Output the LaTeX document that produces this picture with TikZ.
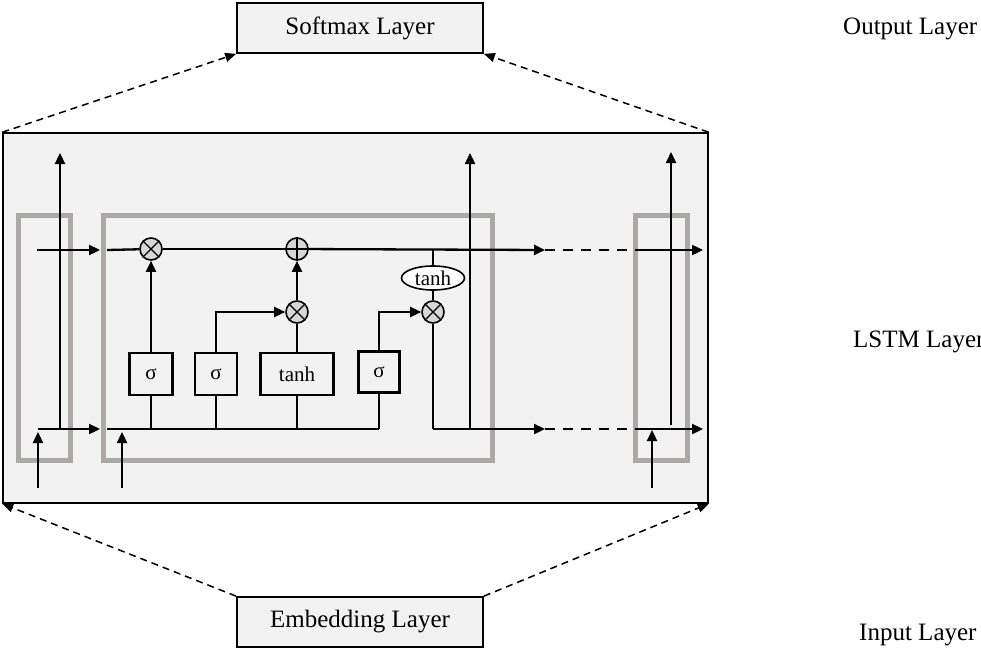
\documentclass[tikz,border=0pt]{standalone}
\usepackage{fontspec}
\setmainfont{Liberation Serif}
\usetikzlibrary{arrows.meta,shapes.geometric}
\definecolor{panelfill}{RGB}{242,242,242}
\definecolor{cellgray}{RGB}{172,168,168}
\definecolor{opfill}{RGB}{215,215,215}
\begin{document}
\begin{tikzpicture}[x=1pt,y=-1pt,
  layerbox/.style={draw, line width=1.7pt, fill=panelfill, minimum width=246pt, minimum height=50pt, inner sep=0pt, font=\fontsize{25}{29}\selectfont},
  lbl/.style={font=\fontsize{25}{29}\selectfont, inner sep=0pt},
  gatebox/.style={draw, line width=2.3pt, fill=panelfill, minimum height=42pt, inner sep=0pt, font=\fontsize{21}{25}\selectfont},
  opnode/.style={circle, draw, line width=1.6pt, fill=opfill, minimum size=22pt, inner sep=0pt},
  flow/.style={line width=2.3pt, -{Triangle[length=11pt,width=10pt]}},
  wire/.style={line width=2.3pt},
  dwire/.style={line width=2.3pt, dash pattern=on 10pt off 8pt},
  outerdash/.style={line width=1.5pt, dash pattern=on 7pt off 5pt, -{Triangle[length=11pt,width=9pt]}},
  cellrect/.style={draw=cellgray, line width=5pt}
]
\useasboundingbox (0,0) rectangle (981,650);

% layers
\node[layerbox] (soft) at (360,28) {Softmax Layer};
\node[layerbox] (emb) at (360,622) {Embedding Layer};
\node[draw, line width=1.5pt, fill=panelfill, minimum width=705pt, minimum height=370pt, inner sep=0pt] (panel) at (355.5,318) {};

\node[lbl, anchor=base west] (outl) at (843,35) {Output Layer};
\node[lbl, anchor=base west] (lstml) at (853,347) {LSTM Layer};
\node[lbl, anchor=base west] (inl) at (859,640) {Input Layer};

% dashed projections
\draw[outerdash] (panel.north west) -- (soft.south west);
\draw[outerdash] (panel.north east) -- (soft.south east);
\draw[outerdash] (emb.north west) -- (panel.south west);
\draw[outerdash] (emb.north east) -- (panel.south east);

% gray cell frames
\node[cellrect, minimum width=52pt, minimum height=245pt, inner sep=0pt] (cellL) at (44,337.5) {};
\node[cellrect, minimum width=389pt, minimum height=245pt, inner sep=0pt] (cellM) at (297.5,337.5) {};
\node[cellrect, minimum width=52pt, minimum height=245pt, inner sep=0pt] (cellR) at (661,337.5) {};

% gates
\node[gatebox, minimum width=43pt] (s1) at (151,374) {σ};
\node[gatebox, minimum width=42pt] (s2) at (216,374) {σ};
\node[gatebox, minimum width=73pt] (tg) at (297,374) {tanh};
\node[gatebox, minimum width=41pt, minimum height=41pt] (s4) at (379,372) {σ};

% pointwise ops
\node[opnode] (m1) at (151,249) {};
\node[opnode] (pl) at (297,249) {};
\node[opnode] (m2) at (297,312) {};
\node[opnode] (m3) at (433,312) {};
\node[ellipse, draw, line width=1.6pt, fill=white, minimum width=63pt, minimum height=24pt, inner sep=0pt, font=\fontsize{21}{25}\selectfont] (th) at (433,278) {tanh};

\foreach \n in {m1,m2,m3}{
  \draw[line width=1.3pt] (\n.north west) -- (\n.south east) (\n.north east) -- (\n.south west);
}
\draw[line width=1.3pt] (pl.north) -- (pl.south) (pl.west) -- (pl.east);

% coordinates
\coordinate (cA) at (37,250);
\coordinate (cB) at (100,250);
\coordinate (cC) at (107,250);
\coordinate (cT) at (433,250);
\coordinate (cD) at (545,250);
\coordinate (cE) at (638,250);
\coordinate (cF) at (703,250);

\coordinate (hA) at (38,429);
\coordinate (hB) at (100,429);
\coordinate (hC) at (107,429);
\coordinate (hg1) at (151,429);
\coordinate (hg2) at (216,429);
\coordinate (hg3) at (297,429);
\coordinate (hg4) at (379,429);
\coordinate (hT) at (433,429);
\coordinate (hD) at (545,429);
\coordinate (hE) at (638,429);
\coordinate (hF) at (703,429);

\coordinate (xL) at (38,488);
\coordinate (xLt) at (38,432);
\coordinate (xM) at (122,488);
\coordinate (xMt) at (122,432);
\coordinate (xR) at (652,488);
\coordinate (xRt) at (652,430);

\coordinate (vLb) at (60,429);
\coordinate (vLt) at (60,153);
\coordinate (vMb) at (470,429);
\coordinate (vMt) at (470,153);
\coordinate (vRb) at (671,425);
\coordinate (vRt) at (671,152);

% cell state line
\draw[flow] (cA) -- (cB);
\draw[wire] (cC) -- (m1);
\draw[wire] (m1) -- (pl);
\draw[flow] (pl) -- (cD);
\draw[dwire] (cD) -- (cE);
\draw[flow] (cE) -- (cF);
\draw[wire] (cT) -- (th);
\draw[wire] (th) -- (m3);

% hidden line
\draw[flow] (hA) -- (hB);
\draw[wire] (hC) -- (hg4);
\draw[wire] (hg1) -- (s1);
\draw[wire] (hg2) -- (s2);
\draw[wire] (hg3) -- (tg);
\draw[wire] (hg4) -- (s4);
\draw[wire] (m3) -- (hT);
\draw[flow] (hT) -- (hD);
\draw[dwire] (hD) -- (hE);
\draw[flow] (hE) -- (hF);

% gate connections
\draw[flow] (s1) -- (m1);
\draw[flow] (s2.north) |- (m2);
\draw[wire] (tg) -- (m2);
\draw[flow] (m2) -- (pl);
\draw[flow] (s4.north) |- (m3);

% inputs and outputs
\draw[flow] (xL) -- (xLt);
\draw[flow] (xM) -- (xMt);
\draw[flow] (xR) -- (xRt);
\draw[flow] (vLb) -- (vLt);
\draw[flow] (vMb) -- (vMt);
\draw[flow] (vRb) -- (vRt);
\end{tikzpicture}
\end{document}
